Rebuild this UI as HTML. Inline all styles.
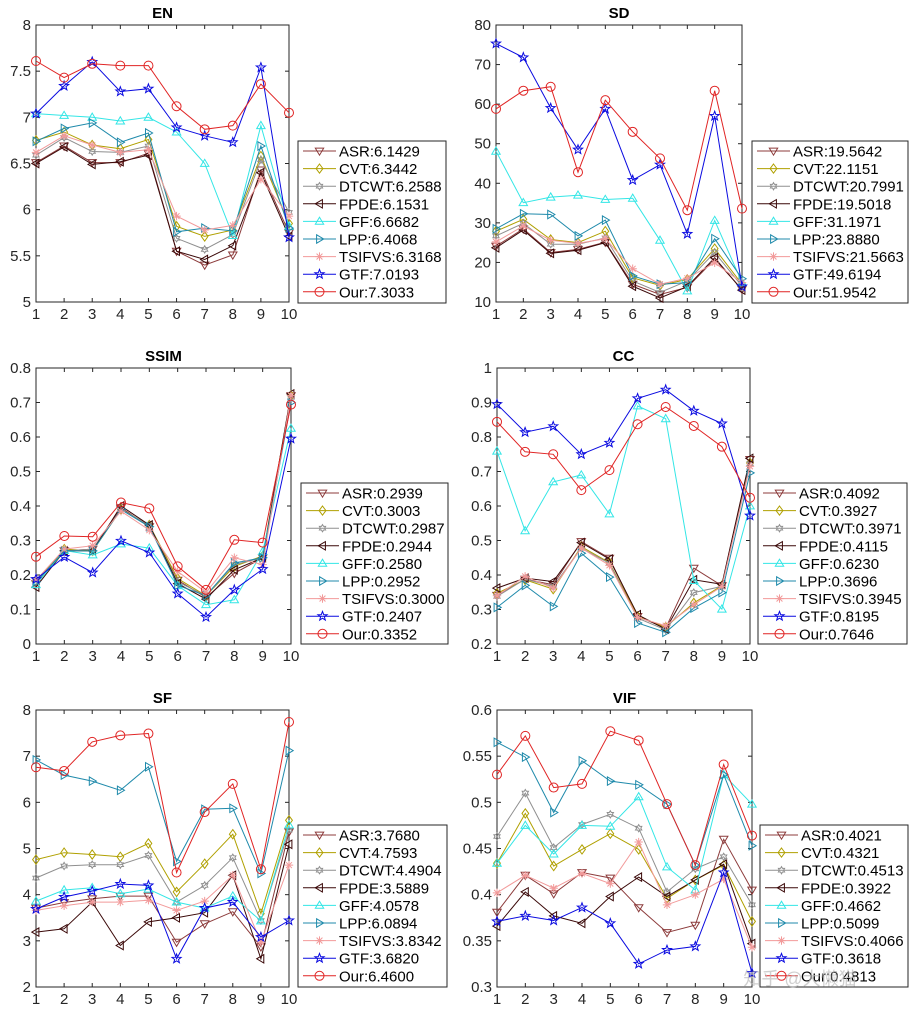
<!DOCTYPE html>
<html><head><meta charset="utf-8">
<style>
html,body{margin:0;padding:0;background:#fff;}
svg{display:block;font-family:"Liberation Sans","Noto Sans CJK SC",sans-serif;}
</style></head>
<body>
<svg id="chart" width="913" height="1015" viewBox="0 0 913 1015" xmlns="http://www.w3.org/2000/svg"></svg>
<script>
const seriesNames = ["ASR","CVT","DTCWT","FPDE","GFF","LPP","TSIFVS","GTF","Our"];
const categories = [1,2,3,4,5,6,7,8,9,10];

const enValues = [
 [6.51,6.69,6.51,6.51,6.61,5.55,5.40,5.51,6.43,5.75],
 [6.75,6.84,6.70,6.66,6.76,5.82,5.71,5.78,6.58,5.85],
 [6.59,6.78,6.63,6.62,6.69,5.69,5.57,5.73,6.54,5.97],
 [6.50,6.68,6.49,6.52,6.59,5.55,5.46,5.61,6.40,5.71],
 [7.04,7.02,7.00,6.96,7.00,6.84,6.50,5.72,6.91,5.82],
 [6.74,6.88,6.94,6.73,6.83,5.76,5.80,5.77,6.69,5.80],
 [6.62,6.80,6.70,6.62,6.65,5.93,5.78,5.83,6.33,5.93],
 [7.04,7.34,7.60,7.28,7.31,6.89,6.80,6.73,7.54,5.70],
 [7.61,7.43,7.58,7.56,7.56,7.12,6.87,6.91,7.36,7.05]];
const enScores = ["6.1429","6.3442","6.2588","6.1531","6.6682","6.4068","6.3168","7.0193","7.3033"];

const sdValues = [
 [24.1,28.5,22.5,23.3,25.1,14.5,11.9,13.7,20.8,13.2],
 [27.9,30.9,25.8,25.0,27.9,16.1,14.2,15.7,23.5,14.5],
 [26.7,29.9,24.6,24.6,26.2,15.3,12.4,15.3,22.5,14.0],
 [23.7,28.2,22.3,23.1,25.0,14.0,11.0,13.9,21.2,13.0],
 [48.1,35.1,36.5,37.0,35.9,36.2,25.6,12.8,30.6,14.9],
 [28.5,32.3,32.1,26.7,30.7,16.6,14.5,14.9,26.0,15.9],
 [25.2,29.2,25.6,24.8,26.0,18.4,14.5,16.0,19.9,14.9],
 [75.3,71.8,59.0,48.5,58.8,40.8,44.7,27.2,57.0,13.9],
 [58.8,63.4,64.4,42.8,61.0,53.0,46.3,33.2,63.4,33.6]];
const sdScores = ["19.5642","22.1151","20.7991","19.5018","31.1971","23.8880","21.5663","49.6194","51.9542"];

const ssimValues = [
 [0.175,0.270,0.275,0.395,0.340,0.185,0.135,0.205,0.250,0.720],
 [0.180,0.275,0.270,0.390,0.345,0.190,0.140,0.225,0.255,0.720],
 [0.178,0.270,0.275,0.390,0.345,0.180,0.140,0.230,0.250,0.715],
 [0.165,0.270,0.270,0.400,0.345,0.175,0.130,0.215,0.250,0.725],
 [0.172,0.271,0.258,0.290,0.278,0.169,0.114,0.128,0.268,0.625],
 [0.180,0.270,0.270,0.390,0.340,0.170,0.140,0.235,0.250,0.700],
 [0.185,0.275,0.285,0.385,0.330,0.210,0.150,0.250,0.230,0.720],
 [0.188,0.252,0.207,0.299,0.265,0.146,0.078,0.157,0.217,0.595],
 [0.253,0.313,0.311,0.410,0.393,0.225,0.157,0.302,0.294,0.694]];
const ssimScores = ["0.2939","0.3003","0.2987","0.2944","0.2580","0.2952","0.3000","0.2407","0.3352"];

const ccValues = [
 [0.341,0.388,0.372,0.497,0.449,0.280,0.246,0.420,0.369,0.735],
 [0.347,0.386,0.359,0.482,0.436,0.280,0.249,0.319,0.369,0.725],
 [0.338,0.388,0.367,0.478,0.434,0.275,0.241,0.349,0.367,0.723],
 [0.362,0.391,0.381,0.494,0.446,0.285,0.243,0.386,0.373,0.738],
 [0.759,0.528,0.670,0.690,0.577,0.890,0.853,0.384,0.301,0.600],
 [0.306,0.370,0.309,0.463,0.394,0.261,0.234,0.304,0.349,0.696],
 [0.340,0.396,0.362,0.478,0.428,0.277,0.253,0.314,0.367,0.715],
 [0.895,0.814,0.831,0.750,0.783,0.912,0.937,0.876,0.839,0.572],
 [0.844,0.757,0.750,0.646,0.704,0.837,0.887,0.832,0.772,0.624]];
const ccScores = ["0.4092","0.3927","0.3971","0.4115","0.6230","0.3696","0.3945","0.8195","0.7646"];

const sfValues = [
 [3.71,3.83,3.91,3.97,3.97,2.97,3.37,3.63,2.87,5.36],
 [4.76,4.91,4.87,4.82,5.11,4.06,4.67,5.31,3.59,5.61],
 [4.36,4.62,4.65,4.65,4.85,3.84,4.20,4.80,3.44,5.40],
 [3.19,3.26,3.84,2.90,3.41,3.50,3.61,4.42,2.61,5.09],
 [3.86,4.10,4.15,4.02,4.12,3.84,3.71,3.97,3.43,5.51],
 [6.92,6.59,6.46,6.26,6.77,4.72,5.85,5.87,4.46,7.12],
 [3.66,3.76,3.84,3.84,3.88,3.66,3.86,4.42,2.97,4.64],
 [3.69,3.95,4.08,4.23,4.20,2.61,3.71,3.84,3.08,3.44],
 [6.76,6.68,7.31,7.45,7.49,4.48,5.79,6.40,4.55,7.74]];
const sfScores = ["3.7680","4.7593","4.4904","3.5889","4.0578","6.0894","3.8342","3.6820","6.4600"];

const vifValues = [
 [0.381,0.421,0.401,0.424,0.418,0.386,0.359,0.367,0.460,0.405],
 [0.434,0.488,0.431,0.449,0.466,0.449,0.396,0.416,0.432,0.371],
 [0.463,0.510,0.451,0.476,0.487,0.472,0.403,0.428,0.441,0.389],
 [0.366,0.403,0.377,0.369,0.398,0.419,0.398,0.416,0.433,0.347],
 [0.434,0.475,0.444,0.475,0.474,0.506,0.430,0.405,0.530,0.498],
 [0.565,0.549,0.489,0.545,0.523,0.519,0.498,0.432,0.530,0.453],
 [0.402,0.421,0.407,0.423,0.412,0.457,0.389,0.400,0.417,0.343],
 [0.371,0.377,0.372,0.386,0.369,0.325,0.340,0.344,0.424,0.315],
 [0.530,0.572,0.516,0.520,0.577,0.567,0.498,0.432,0.541,0.464]];
const vifScores = ["0.4021","0.4321","0.4513","0.3922","0.4662","0.5099","0.4066","0.3618","0.4813"];

const enTicks = ["5","5.5","6","6.5","7","7.5","8"];
const sdTicks = ["10","20","30","40","50","60","70","80"];
const ssimTicks = ["0","0.1","0.2","0.3","0.4","0.5","0.6","0.7","0.8"];
const ccTicks = ["0.2","0.3","0.4","0.5","0.6","0.7","0.8","0.9","1"];
const sfTicks = ["2","3","4","5","6","7","8"];
const vifTicks = ["0.3","0.35","0.4","0.45","0.5","0.55","0.6"];

const colors = ["#8c3b3b","#b0a000","#8f8f8f","#3a0808","#33e6e6","#1f8aab","#f29a9a","#0a0ae0","#e02424"];
const markers = ["v","d","h","<","^",">","*","p","o"];

const panels = [
 {name:"en",title:"EN",vals:enValues,scores:enScores,ticks:enTicks,min:5,max:8,l:36,r:289,t:25,b:302,lg:[298,141,148,162]},
 {name:"sd",title:"SD",vals:sdValues,scores:sdScores,ticks:sdTicks,min:10,max:80,l:496,r:742,t:25,b:302,lg:[752,141,156,162]},
 {name:"ssim",title:"SSIM",vals:ssimValues,scores:ssimScores,ticks:ssimTicks,min:0,max:0.8,l:36,r:291,t:368,b:644,lg:[301,483,147,161]},
 {name:"cc",title:"CC",vals:ccValues,scores:ccScores,ticks:ccTicks,min:0.2,max:1,l:497,r:750,t:368,b:644,lg:[758,483,149,161]},
 {name:"sf",title:"SF",vals:sfValues,scores:sfScores,ticks:sfTicks,min:2,max:8,l:36,r:289,t:710,b:987,lg:[298,825,149,162]},
 {name:"vif",title:"VIF",vals:vifValues,scores:vifScores,ticks:vifTicks,min:0.3,max:0.6,l:497,r:752,t:710,b:987,lg:[760,825,148,162]}
];

const NS="http://www.w3.org/2000/svg";
const svg=document.getElementById("chart");
function mk(tag,attrs,parent){const e=document.createElementNS(NS,tag);for(const k in attrs)e.setAttribute(k,attrs[k]);(parent||svg).appendChild(e);return e;}

function marker(g,type,cx,cy,col){
 const s=4.2;let e;
 if(type==="o"){e=mk("circle",{cx:cx,cy:cy,r:4.5,fill:"none",stroke:col,"stroke-width":1},g);}
 else if(type==="*"){
   e=mk("path",{d:`M${cx-s},${cy}H${cx+s}M${cx},${cy-s}V${cy+s}M${cx-s*.7},${cy-s*.7}L${cx+s*.7},${cy+s*.7}M${cx-s*.7},${cy+s*.7}L${cx+s*.7},${cy-s*.7}`,stroke:col,"stroke-width":1,fill:"none"},g);
 } else {
   let pts=[];
   if(type==="v")pts=[[-s,-s*.7],[s,-s*.7],[0,s]];
   if(type==="^")pts=[[-s,s*.7],[s,s*.7],[0,-s]];
   if(type==="<")pts=[[s*.7,-s],[s*.7,s],[-s,0]];
   if(type===">")pts=[[-s*.7,-s],[-s*.7,s],[s,0]];
   if(type==="d")pts=[[0,-s*1.1],[s*.8,0],[0,s*1.1],[-s*.8,0]];
   if(type==="p"||type==="h"){const n=type==="p"?5:6;const R=type==="p"?4.8:3.6,r=type==="p"?2:2.1;
     for(let i=0;i<2*n;i++){const a=-Math.PI/2+i*Math.PI/n;const rr=i%2?r:R;pts.push([rr*Math.cos(a),rr*Math.sin(a)]);}}
   e=mk("polygon",{points:pts.map(p=>(cx+p[0]).toFixed(1)+","+(cy+p[1]).toFixed(1)).join(" "),fill:"none",stroke:col,"stroke-width":1},g);
 }
 return e;
}

panels.forEach(p=>{
 const g=mk("g",{});
 
 
 const xs=i=>p.l+(p.r-p.l)*(i)/(categories.length-1);
 const ys=v=>p.b-(p.b-p.t)*(v-p.min)/(p.max-p.min);
 // frame
 const fr=mk("rect",{x:p.l,y:p.t,width:p.r-p.l,height:p.b-p.t,fill:"#fff",stroke:"#262626","stroke-width":1},g);
 
 
 // title
 const tt=mk("text",{x:(p.l+p.r)/2,y:p.t-7,"text-anchor":"middle","font-size":"15","font-weight":"bold",fill:"#000"},g);
 tt.textContent=p.title;
 
 
 // y ticks
 p.ticks.forEach(t=>{
   const y=ys(parseFloat(t));
   mk("line",{x1:p.l,x2:p.l+4,y1:y,y2:y,stroke:"#262626"},g);
   mk("line",{x1:p.r,x2:p.r-4,y1:y,y2:y,stroke:"#262626"},g);
   const tx=mk("text",{x:p.l-5,y:y+5,"text-anchor":"end","font-size":"15",fill:"#262626"},g);
   tx.textContent=t;
   
   
 });
 // x ticks
 categories.forEach((c,i)=>{
   const x=xs(i);
   mk("line",{x1:x,x2:x,y1:p.b,y2:p.b-4,stroke:"#262626"},g);
   mk("line",{x1:x,x2:x,y1:p.t,y2:p.t+4,stroke:"#262626"},g);
   const tx=mk("text",{x:x,y:p.b+17,"text-anchor":"middle","font-size":"15",fill:"#262626"},g);
   tx.textContent=String(c);
   
   
 });
 // series
 p.vals.forEach((vals,si)=>{
   const sg=mk("g",{},g);
   
   
   const d=vals.map((v,i)=>(i?"L":"M")+xs(i).toFixed(1)+","+ys(v).toFixed(1)).join("");
   const ln=mk("path",{d:d,fill:"none",stroke:colors[si],"stroke-width":1},sg);
   
   
   vals.forEach((v,i)=>{
     const m=marker(sg,markers[si],xs(i),ys(v),colors[si]);
     
     
   });
 });
 // legend
 const [lx,ly,lw,lh]=p.lg;
 const lgG=mk("g",{},g);
 
 
 mk("rect",{x:lx,y:ly,width:lw,height:lh,fill:"#fff",stroke:"#262626","stroke-width":1},lgG);
 seriesNames.forEach((n,si)=>{
   const y=ly+10+si*17.6;
   const eg=mk("g",{},lgG);
   
   
   mk("line",{x1:lx+5,x2:lx+38,y1:y,y2:y,stroke:colors[si],"stroke-width":1},eg);
   marker(eg,markers[si],lx+21.5,y,colors[si]);
   const tx=mk("text",{x:lx+41,y:y+5.5,"font-size":"15",fill:"#000"},eg);
   tx.textContent=n+":"+p.scores[si];
 });
});
const wm=mk("text",{x:800,y:985,"font-size":"18",fill:"#bbb","fill-opacity":"0.7","text-anchor":"middle"});
wm.textContent="知乎 @大懒猫";


</script>
</body></html>
